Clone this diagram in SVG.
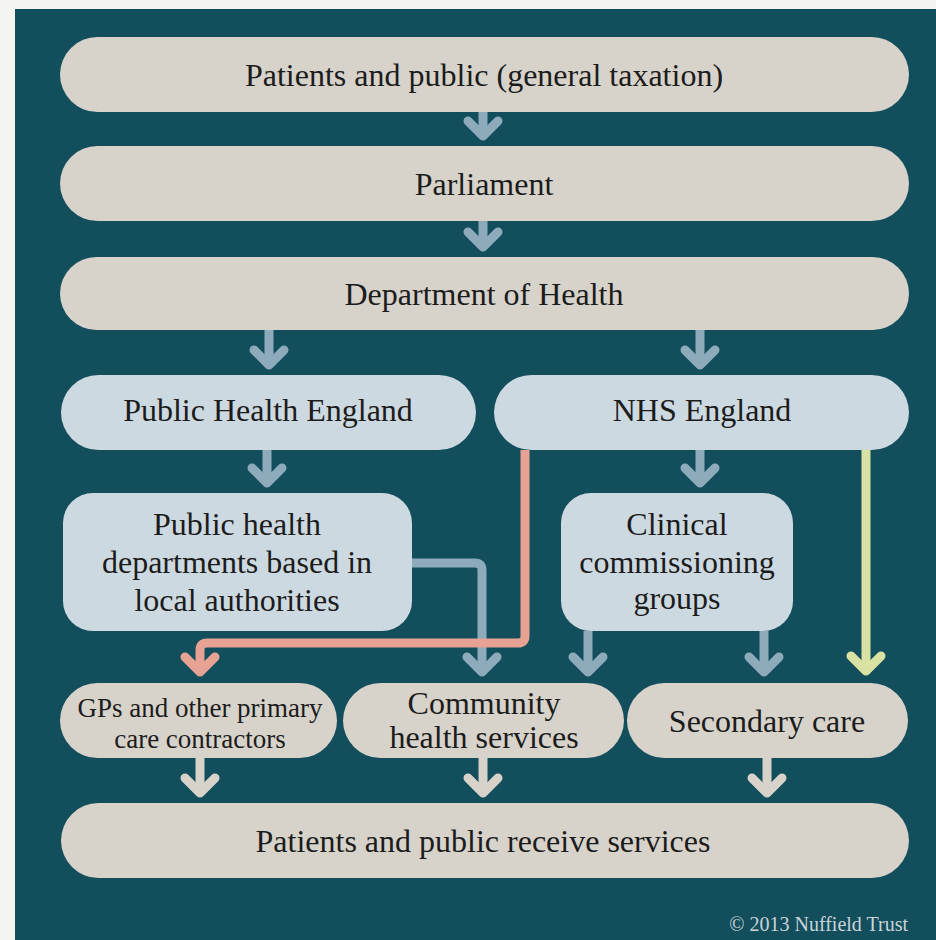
<svg xmlns="http://www.w3.org/2000/svg" width="936" height="940" viewBox="0 0 936 940">
<style>
  .t { font-family: "Liberation Serif", "Times New Roman", serif; font-size: 32px; fill: #1c1c1c; text-anchor: middle; }
  .s { font-size: 27px; }
  .beige { fill: #d7d2ca; }
  .blue { fill: #cdd9e0; }
  .c { fill: none; stroke-width: 9; stroke-linejoin: round; }
  .cb { stroke: #8eabbb; }
  .cw { stroke: #d7d2ca; }
  .cs { stroke: #e8a294; }
  .cy { stroke: #d9e2a2; }
</style>
<defs>
  <marker id="mb" markerUnits="userSpaceOnUse" orient="auto" refX="0" refY="0" markerWidth="40" markerHeight="40" overflow="visible">
    <path d="M -15 -15 L 0 0 L -15 15" fill="none" stroke="#8eabbb" stroke-width="9" stroke-linecap="round" stroke-linejoin="round"/>
  </marker>
  <marker id="mw" markerUnits="userSpaceOnUse" orient="auto" refX="0" refY="0" markerWidth="40" markerHeight="40" overflow="visible">
    <path d="M -15 -15 L 0 0 L -15 15" fill="none" stroke="#d7d2ca" stroke-width="9" stroke-linecap="round" stroke-linejoin="round"/>
  </marker>
  <marker id="ms" markerUnits="userSpaceOnUse" orient="auto" refX="0" refY="0" markerWidth="40" markerHeight="40" overflow="visible">
    <path d="M -15 -15 L 0 0 L -15 15" fill="none" stroke="#e8a294" stroke-width="9" stroke-linecap="round" stroke-linejoin="round"/>
  </marker>
  <marker id="my" markerUnits="userSpaceOnUse" orient="auto" refX="0" refY="0" markerWidth="40" markerHeight="40" overflow="visible">
    <path d="M -15 -15 L 0 0 L -15 15" fill="none" stroke="#d9e2a2" stroke-width="9" stroke-linecap="round" stroke-linejoin="round"/>
  </marker>
</defs>
<rect x="0" y="0" width="936" height="940" fill="#f4f5f0"/>
<rect x="15" y="9" width="921" height="931" fill="#134e5c"/>

<g id="connectors">
  <path class="c cb" d="M 483 112 V 136" marker-end="url(#mb)"/>
  <path class="c cb" d="M 483 221 V 247" marker-end="url(#mb)"/>
  <path class="c cb" d="M 269 330 V 365" marker-end="url(#mb)"/>
  <path class="c cb" d="M 700 330 V 365" marker-end="url(#mb)"/>
  <path class="c cb" d="M 267 450 V 483" marker-end="url(#mb)"/>
  <path class="c cb" d="M 700 450 V 483" marker-end="url(#mb)"/>
  <path class="c cb" d="M 412 563 H 475 Q 482 563 482 570 V 672" marker-end="url(#mb)"/>
  <path class="c cb" d="M 588 631 V 672" marker-end="url(#mb)"/>
  <path class="c cb" d="M 764 631 V 672" marker-end="url(#mb)"/>
  <path class="c cs" d="M 525 450 V 636 Q 525 643 518 643 H 207 Q 200 643 200 650 V 672" marker-end="url(#ms)"/>
  <path class="c cy" d="M 866 450 V 671" marker-end="url(#my)"/>
  <path class="c cw" d="M 200 758 V 793" marker-end="url(#mw)"/>
  <path class="c cw" d="M 483 758 V 793" marker-end="url(#mw)"/>
  <path class="c cw" d="M 767 758 V 793" marker-end="url(#mw)"/>
</g>

<g id="patients-public">
  <rect class="beige" x="60" y="37" width="849" height="75" rx="37.5"/>
  <text class="t" x="484" y="86">Patients and public (general taxation)</text>
</g>
<g id="parliament">
  <rect class="beige" x="60" y="146" width="849" height="75" rx="37.5"/>
  <text class="t" x="484" y="195">Parliament</text>
</g>
<g id="department-of-health">
  <rect class="beige" x="60" y="257" width="849" height="73" rx="36.5"/>
  <text class="t" x="484" y="305">Department of Health</text>
</g>
<g id="public-health-england">
  <rect class="blue" x="61" y="375" width="415" height="75" rx="37.5"/>
  <text class="t" x="268" y="421">Public Health England</text>
</g>
<g id="nhs-england">
  <rect class="blue" x="494" y="375" width="415" height="75" rx="37.5"/>
  <text class="t" x="702" y="421">NHS England</text>
</g>
<g id="public-health-departments">
  <rect class="blue" x="63" y="493" width="349" height="138" rx="30"/>
  <text class="t" x="237" y="535">Public health</text>
  <text class="t" x="237" y="573">departments based in</text>
  <text class="t" x="237" y="611">local authorities</text>
</g>
<g id="clinical-commissioning-groups">
  <rect class="blue" x="561" y="493" width="232" height="138" rx="30"/>
  <text class="t" x="677" y="535">Clinical</text>
  <text class="t" x="677" y="573">commissioning</text>
  <text class="t" x="677" y="609">groups</text>
</g>
<g id="gps">
  <rect class="beige" x="60" y="683" width="277" height="75" rx="37.5"/>
  <text class="t s" x="200" y="717">GPs and other primary</text>
  <text class="t s" x="200" y="748">care contractors</text>
</g>
<g id="community-health-services">
  <rect class="beige" x="343" y="683" width="281" height="75" rx="37.5"/>
  <text class="t" x="484" y="714">Community</text>
  <text class="t" x="484" y="748">health services</text>
</g>
<g id="secondary-care">
  <rect class="beige" x="627" y="683" width="281" height="75" rx="37.5"/>
  <text class="t" x="767" y="732">Secondary care</text>
</g>
<g id="patients-receive">
  <rect class="beige" x="61" y="803" width="848" height="75" rx="37.5"/>
  <text class="t" x="483" y="852">Patients and public receive services</text>
</g>
<text x="908" y="931" font-family="Liberation Serif, Times New Roman, serif" font-size="20" fill="#c9d5d9" text-anchor="end">© 2013 Nuffield Trust</text>
</svg>
